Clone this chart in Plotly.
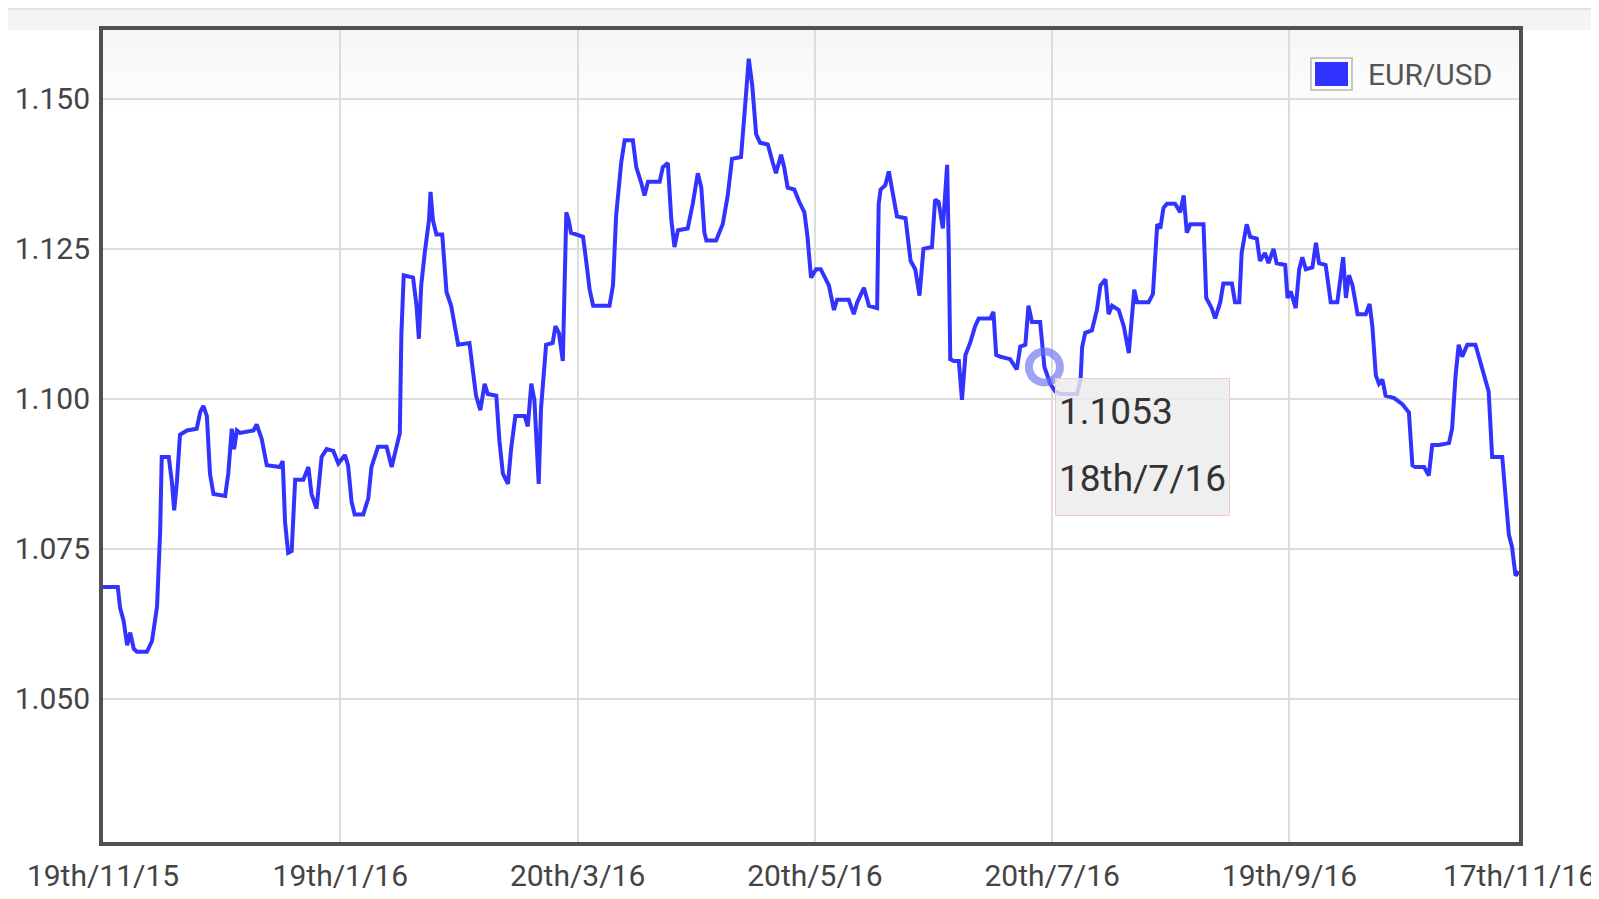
import pandas as pd
import plotly.graph_objects as go

# ---------------- data ----------------
start_date = "2015-11-19"

# day offsets from 19 Nov 2015 and EUR/USD rate, in two-month chunks
days_nov_jan = [0, 3.8, 4.4, 5.3, 6.2, 7.0, 7.9, 8.7, 11.3, 12.6,
                13.9, 14.7, 15.1, 16.9, 17.7, 18.3, 19.0, 19.8, 21.6, 24.1,
                25.0, 25.8, 26.7, 27.5, 28.4, 31.4, 32.2, 33.1, 33.7, 34.4,
                35.2, 38.7, 39.5, 40.8, 42.1, 45.5, 46.2, 46.8, 47.6, 48.5,
                49.4, 51.5, 52.8, 53.6, 54.9, 56.2, 57.5, 59.2, 60.5]
rates_nov_jan = [1.0686, 1.0686, 1.0651, 1.0630, 1.0589, 1.0610, 1.0583, 1.0578, 1.0578, 1.0596,
                 1.0654, 1.0780, 1.0903, 1.0903, 1.0862, 1.0814, 1.0862, 1.0940, 1.0947, 1.0950,
                 1.0978, 1.0988, 1.0971, 1.0875, 1.0841, 1.0838, 1.0875, 1.0950, 1.0916, 1.0947,
                 1.0943, 1.0947, 1.0957, 1.0933, 1.0889, 1.0886, 1.0896, 1.0794, 1.0743, 1.0746,
                 1.0865, 1.0865, 1.0886, 1.0841, 1.0817, 1.0903, 1.0916, 1.0913, 1.0892]

days_jan_mar = [62.2, 63.0, 63.9, 64.7, 66.9, 68.2, 69.0, 70.7, 72.9, 74.2,
                75.4, 76.3, 76.7, 77.3, 79.7, 80.6, 81.2, 81.8, 82.7, 83.8,
                84.2, 84.8, 85.7, 87.2, 88.3, 89.5, 91.3, 94.2, 95.1, 95.9,
                97.0, 98.1, 98.9, 101.1, 101.9, 102.8, 104.1, 104.9, 106.0, 108.4,
                109.2, 110.1, 110.9, 111.4, 112.0, 112.6, 113.5, 113.9, 115.6, 116.3,
                117.2, 118.2, 119.1, 119.7, 120.3]
rates_jan_mar = [1.0906, 1.0889, 1.0828, 1.0807, 1.0807, 1.0834, 1.0886, 1.0920, 1.0920, 1.0886,
                 1.0923, 1.0943, 1.1107, 1.1206, 1.1202, 1.1155, 1.1100, 1.1189, 1.1243, 1.1298,
                 1.1345, 1.1298, 1.1274, 1.1274, 1.1178, 1.1155, 1.1090, 1.1093, 1.1046, 1.1005,
                 1.0981, 1.1025, 1.1008, 1.1005, 1.0930, 1.0875, 1.0858, 1.0916, 1.0971, 1.0971,
                 1.0954, 1.1025, 1.0998, 1.0930, 1.0858, 1.0984, 1.1052, 1.1090, 1.1093, 1.1121,
                 1.1110, 1.1063, 1.1311, 1.1298, 1.1277]

days_mar_may = [123.4, 124.2, 125.1, 126.0, 130.2, 131.1, 131.9, 133.2, 134.1, 136.2,
                137.1, 138.4, 139.2, 140.1, 143.1, 143.9, 145.2, 146.1, 146.9, 147.8,
                150.3, 151.6, 152.9, 153.8, 154.6, 155.1, 157.6, 159.3, 160.6, 161.7,
                164.0, 164.9, 165.5, 166.0, 166.9, 167.9, 168.9, 170.9, 172.2, 173.0,
                174.3, 175.1, 176.0, 177.7, 179.0, 180.3, 181.1, 182.0, 183.3, 184.5]
rates_mar_may = [1.1270, 1.1230, 1.1182, 1.1155, 1.1155, 1.1189, 1.1305, 1.1393, 1.1431, 1.1431,
                 1.1386, 1.1359, 1.1339, 1.1362, 1.1362, 1.1386, 1.1393, 1.1298, 1.1253, 1.1281,
                 1.1284, 1.1325, 1.1376, 1.1352, 1.1277, 1.1264, 1.1264, 1.1291, 1.1339, 1.1400,
                 1.1403, 1.1475, 1.1522, 1.1567, 1.1522, 1.1441, 1.1427, 1.1424, 1.1393, 1.1376,
                 1.1407, 1.1386, 1.1352, 1.1349, 1.1328, 1.1311, 1.1270, 1.1202, 1.1216, 1.1216]

days_may_jul = [186.6, 187.9, 188.7, 191.7, 193.0, 193.9, 195.6, 196.9, 199.0, 199.4,
                199.9, 201.1, 202.0, 202.9, 204.1, 206.3, 207.6, 208.8, 209.9, 210.9,
                213.1, 213.9, 214.8, 215.9, 216.5, 217.0, 217.4, 217.8, 218.7, 220.0,
                220.8, 221.7, 222.9, 224.2, 225.1, 228.1, 228.9, 229.6, 230.7, 233.2,
                234.9, 235.8, 237.1, 237.9, 238.8, 240.9, 242.0, 243.5, 244.8]
rates_may_jul = [1.1189, 1.1148, 1.1165, 1.1165, 1.1141, 1.1161, 1.1185, 1.1155, 1.1151, 1.1325,
                 1.1349, 1.1356, 1.1379, 1.1345, 1.1304, 1.1301, 1.1230, 1.1216, 1.1172, 1.1250,
                 1.1253, 1.1332, 1.1328, 1.1284, 1.1339, 1.1390, 1.1257, 1.1066, 1.1063, 1.1063,
                 1.0998, 1.1073, 1.1093, 1.1121, 1.1134, 1.1134, 1.1145, 1.1073, 1.1070, 1.1066,
                 1.1049, 1.1087, 1.1090, 1.1155, 1.1128, 1.1128, 1.1053, 1.1025, 1.1012]

days_jul_sep = [246.1, 250.4, 251.3, 251.7, 252.5, 254.2, 255.5, 256.4, 257.7, 258.5,
                259.4, 261.1, 262.4, 263.7, 264.5, 265.1, 265.8, 268.8, 269.9, 270.5,
                271.0, 271.8, 272.6, 273.5, 275.6, 276.9, 277.8, 278.6, 279.5, 282.9,
                283.6, 285.0, 285.9, 287.2, 288.0, 290.2, 291.0, 292.1, 292.7, 294.0,
                294.9, 296.6, 297.4, 298.7, 299.6, 300.9, 301.7, 303.9]
rates_jul_sep = [1.1008, 1.1008, 1.1032, 1.1086, 1.1110, 1.1114, 1.1148, 1.1189, 1.1199, 1.1141,
                 1.1155, 1.1148, 1.1121, 1.1076, 1.1134, 1.1182, 1.1161, 1.1161, 1.1175, 1.1230,
                 1.1291, 1.1284, 1.1318, 1.1325, 1.1325, 1.1311, 1.1339, 1.1277, 1.1291, 1.1291,
                 1.1168, 1.1151, 1.1134, 1.1161, 1.1192, 1.1192, 1.1161, 1.1161, 1.1243, 1.1291,
                 1.1270, 1.1267, 1.1230, 1.1243, 1.1226, 1.1250, 1.1226, 1.1223]

days_sep_nov = [304.5, 305.3, 306.6, 307.5, 308.3, 309.2, 310.9, 311.8, 312.6, 314.3,
                315.6, 317.3, 318.2, 318.8, 319.5, 320.3, 321.2, 322.5, 324.6, 325.6,
                326.3, 327.2, 328.0, 328.9, 329.7, 331.9, 334.0, 335.7, 336.6, 337.4,
                339.6, 340.8, 341.7, 343.4, 346.0, 346.8, 347.7, 348.5, 349.4, 350.7,
                352.8, 354.1, 355.4, 356.2, 357.1, 359.7, 360.5, 361.4, 362.2, 363.1,
                364.0]
rates_sep_nov = [1.1168, 1.1179, 1.1151, 1.1216, 1.1236, 1.1216, 1.1219, 1.1260, 1.1226, 1.1223,
                 1.1161, 1.1161, 1.1202, 1.1236, 1.1168, 1.1206, 1.1189, 1.1141, 1.1141, 1.1158,
                 1.1121, 1.1039, 1.1025, 1.1032, 1.1005, 1.1001, 1.0991, 1.0977, 1.0889, 1.0886,
                 1.0886, 1.0872, 1.0923, 1.0923, 1.0926, 1.0950, 1.1039, 1.1090, 1.1070, 1.1090,
                 1.1090, 1.1059, 1.1032, 1.1012, 1.0903, 1.0903, 1.0841, 1.0773, 1.0753, 1.0705,
                 1.0712]

series_name = "EUR/USD"

# highlighted (hovered) point shown in the tooltip
hover_day = 242
hover_rate = 1.1053
hover_label = "18th/7/16"

# axis ticks
x_tick_days = [0, 61, 122, 183, 244, 305, 364]
x_tick_labels = ["19th/11/15", "19th/1/16", "20th/3/16", "20th/5/16",
                 "20th/7/16", "19th/9/16", "17th/11/16"]
y_tick_values = [1.050, 1.075, 1.100, 1.125, 1.150]
y_range = [1.02608, 1.16149]

# ---------------- build ----------------
day_chunks = [days_nov_jan, days_jan_mar, days_mar_may, days_may_jul, days_jul_sep, days_sep_nov]
rate_chunks = [rates_nov_jan, rates_jan_mar, rates_mar_may, rates_may_jul, rates_jul_sep, rates_sep_nov]
all_days, all_rates = [], []
for d, r in zip(day_chunks, rate_chunks):
    assert len(d) == len(r), (len(d), len(r))
    all_days += d
    all_rates += r

t0 = pd.Timestamp(start_date)
to_date = lambda d: t0 + pd.to_timedelta(d, unit="D")
x_dates = [to_date(d) for d in all_days]
hover_date = to_date(hover_day)

# figure size (page has an 8px body margin around the figure)
OFF = 8
W, H = 1591, 883
ML, MR, MT, MB = 95, 80, 22, 49
PW, PH = W - ML - MR, H - MT - MB

def fx(px):  # page pixel x -> paper fraction
    return (px - OFF - ML) / PW

def fy(py):  # page pixel y -> paper fraction
    return (H - MB - (py - OFF)) / PH

LINE_BLUE = "#3333ff"
FONT = "Roboto, 'Open Sans', sans-serif"

fig = go.Figure()
fig.add_trace(go.Scatter(
    x=x_dates, y=all_rates, mode="lines", name=series_name,
    line=dict(color=LINE_BLUE, width=4), showlegend=False, hoverinfo="skip"))

# hover ring marker
fig.add_trace(go.Scatter(
    x=[hover_date], y=[hover_rate], mode="markers", showlegend=False, hoverinfo="skip",
    marker=dict(symbol="circle-open", size=31,
                line=dict(color="rgba(105,112,240,0.65)", width=8),
                color="rgba(105,112,240,0.65)")))

axis_common = dict(showline=True, mirror=True, linecolor="#505050", linewidth=4,
                   showgrid=True, gridcolor="#dcdcdc", gridwidth=2, zeroline=False,
                   automargin=False, ticklabeloverflow="allow",
                   ticks="", tickfont=dict(family=FONT, size=30, color="#444444"))

fig.update_xaxes(type="date", range=[to_date(0), to_date(364)],
                 tickmode="array", tickvals=[to_date(d) for d in x_tick_days],
                 ticktext=x_tick_labels, ticklabelstandoff=4, **axis_common)
fig.update_yaxes(range=y_range, tickmode="array", tickvals=y_tick_values,
                 ticktext=[f"{v:.3f}" for v in y_tick_values], ticklabelstandoff=3,
                 **axis_common)

shapes = []
# page decoration: light band above the plot
shapes.append(dict(type="rect", xref="paper", yref="paper", x0=fx(OFF), x1=fx(OFF + W), y0=fy(OFF + 2), y1=fy(OFF),
                   fillcolor="#e4e4e4", line=dict(width=0), layer="below"))
shapes.append(dict(type="rect", xref="paper", yref="paper", x0=fx(OFF), x1=fx(OFF + W), y0=fy(30), y1=fy(OFF + 2),
                   fillcolor="#f4f4f4", line=dict(width=0), layer="below"))
# subtle gradient at top of plot area
grad = ["#f6f6f6", "#f8f8f8", "#fafafa", "#fcfcfc", "#fdfdfd"]
for i, c in enumerate(grad):
    shapes.append(dict(type="rect", xref="paper", yref="paper", x0=0, x1=1,
                       y0=fy(30 + 16 * (i + 1)), y1=fy(30 + 16 * i),
                       fillcolor=c, line=dict(width=0), layer="below"))
# legend swatch
shapes.append(dict(type="rect", xref="paper", yref="paper", x0=fx(1311), x1=fx(1352),
                   y0=fy(90), y1=fy(58), fillcolor="#ffffff", line=dict(color="#c8c8c8", width=2)))
shapes.append(dict(type="rect", xref="paper", yref="paper", x0=fx(1315), x1=fx(1348),
                   y0=fy(86), y1=fy(62), fillcolor=LINE_BLUE, line=dict(width=0)))

annotations = [
    dict(xref="paper", yref="paper", x=fx(1366), y=fy(75), xanchor="left", yanchor="middle",
         text=series_name, showarrow=False, font=dict(family=FONT, size=30, color="#555555")),
    # tooltip box
    dict(x=hover_date, y=hover_rate, xref="x", yref="y", xanchor="left", yanchor="top",
         xshift=11, yshift=-11, text=" ", showarrow=False, width=173, height=136,
         bgcolor="rgba(236,236,236,0.82)", bordercolor="#f1caca", borderwidth=1, borderpad=0),
    dict(x=hover_date, y=hover_rate, xref="x", yref="y", xanchor="left", yanchor="middle",
         xshift=13, yshift=-45, text=f"{hover_rate:.4f}", showarrow=False,
         font=dict(family=FONT, size=37, color="#333333")),
    dict(x=hover_date, y=hover_rate, xref="x", yref="y", xanchor="left", yanchor="middle",
         xshift=13, yshift=-112, text=hover_label, showarrow=False,
         font=dict(family=FONT, size=37, color="#333333")),
]

fig.update_layout(
    width=W, height=H, autosize=False,
    margin=dict(l=ML, r=MR, t=MT, b=MB, pad=0),
    paper_bgcolor="#ffffff", plot_bgcolor="#ffffff",
    showlegend=False, shapes=shapes, annotations=annotations,
    font=dict(family=FONT),
)

fig.write_html("out.html")
